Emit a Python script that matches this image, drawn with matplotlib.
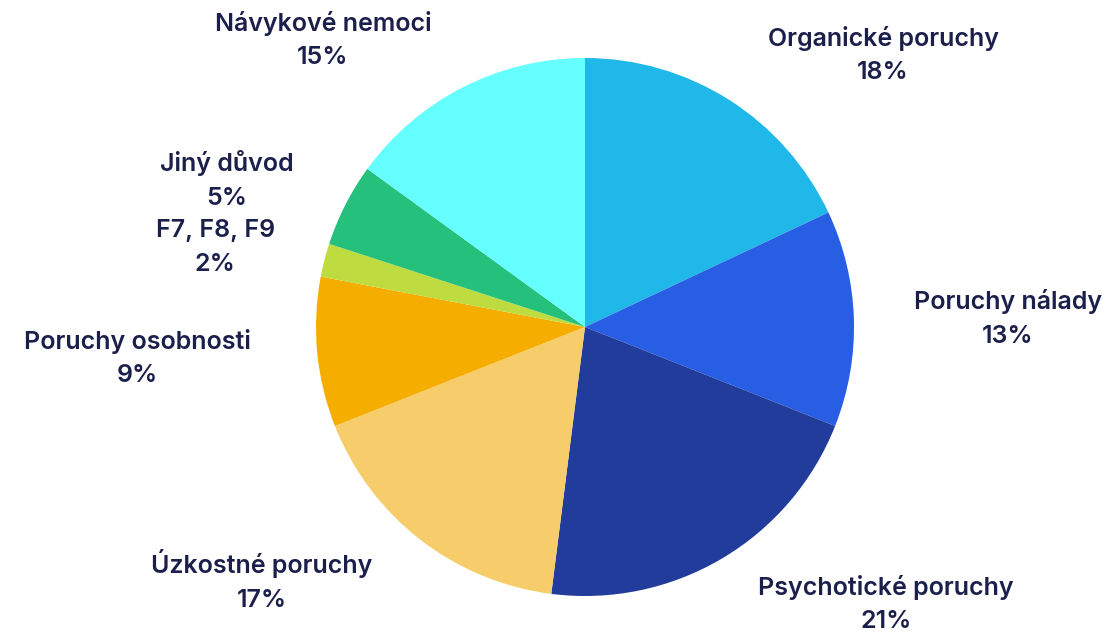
import matplotlib.pyplot as plt

# data
categories = ["Organické poruchy", "Poruchy nálady", "Psychotické poruchy",
              "Úzkostné poruchy", "Poruchy osobnosti", "F7, F8, F9",
              "Jiný důvod", "Návykové nemoci"]
shares = [18, 13, 21, 17, 9, 2, 5, 15]
colors = ["#20B8E8", "#285EE3", "#213C9A", "#F6CD6A",
          "#F5AE00", "#BEDC40", "#24C07C", "#66FFFF"]

# label centres, in units of the pie radius
label_pos = [(1.108, 1.011), (1.572, 0.033), (1.119, -1.030), (-1.201, -0.941),
             (-1.665, -0.115), (-1.375, 0.297), (-1.331, 0.546), (-0.974, 1.067)]

W, H = 1115, 632
cx, cy, r = 585, 327, 269

fig = plt.figure(figsize=(W / 100, H / 100), dpi=100)
ax = fig.add_axes([0, 0, 1, 1])
ax.pie(shares, colors=colors, startangle=90, counterclock=False,
       wedgeprops=dict(linewidth=0))

for name, val, (x, y) in zip(categories, shares, label_pos):
    ax.text(x, y, f"{name}\n{val}%", ha="center", va="center",
            fontsize=18, fontweight="semibold", family="Inter",
            color="#1B1F4B", linespacing=1.6)

ax.set_xlim(-cx / r, (W - cx) / r)
ax.set_ylim(-(H - cy) / r, cy / r)
ax.set_aspect("equal")
ax.axis("off")

fig.savefig("out.png", dpi=100)
